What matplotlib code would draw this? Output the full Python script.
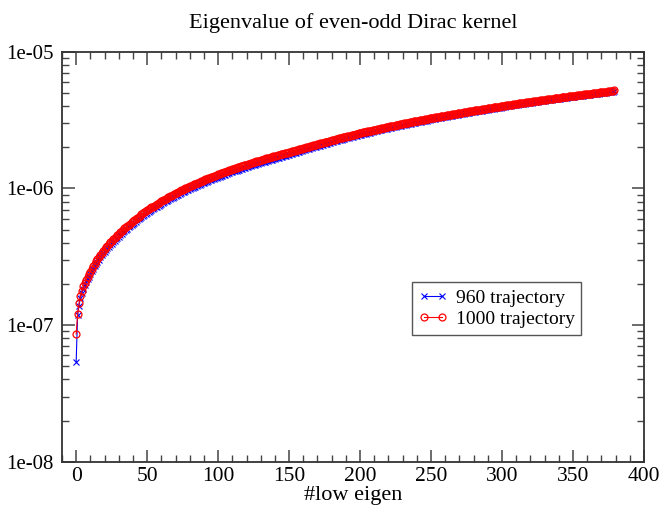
import numpy as np
import matplotlib
matplotlib.use("Agg")
import matplotlib.pyplot as plt
from matplotlib.ticker import FixedLocator, FuncFormatter, LogLocator, NullFormatter, MultipleLocator

plt.rcParams['font.family'] = ['Liberation Serif', 'DejaVu Serif']

# eigenvalues, in units of 1e-8
ev_960 = [
    5.4, 11.8, 13.9, 15.7, 17.2, 18.5, 19.6, 20.6, 21.6, 22.6,
    23.6, 24.7, 25.8, 26.9, 28.0, 29.1, 30.1, 31.3, 32.4, 33.5,
    34.4, 35.4, 36.4, 37.4, 38.4, 39.4, 40.4, 41.4, 42.4, 43.5,
    44.4, 45.5, 46.5, 47.6, 48.6, 49.7, 50.7, 51.8, 52.8, 53.9,
    54.9, 56.1, 57.1, 58.3, 59.3, 60.5, 61.5, 62.6, 63.7, 64.8,
    65.9, 67.0, 68.1, 69.2, 70.3, 71.4, 72.5, 73.6, 74.7, 75.8,
    76.9, 78.0, 79.1, 80.2, 81.3, 82.4, 83.5, 84.6, 85.7, 86.8,
    87.9, 89.0, 90.1, 91.2, 92.3, 93.4, 94.5, 95.6, 96.6, 97.8,
    98.8, 100.0, 101.0, 102.2, 103.2, 104.4, 105.4, 106.6, 107.6, 108.8,
    109.8, 111.0, 112.0, 113.2, 114.2, 115.4, 116.4, 117.6, 118.6, 119.8,
    120.8, 122.0, 123.0, 124.2, 125.2, 126.3, 127.4, 128.5, 129.6, 130.7,
    131.8, 132.9, 134.0, 135.1, 136.2, 137.3, 138.4, 139.5, 140.6, 141.7,
    142.8, 143.9, 145.0, 146.1, 147.2, 148.3, 149.4, 150.5, 151.6, 152.7,
    153.8, 154.9, 156.0, 157.1, 158.1, 159.3, 160.3, 161.5, 162.5, 163.7,
    164.7, 165.9, 166.9, 168.1, 169.1, 170.3, 171.3, 172.5, 173.5, 174.7,
    176.6, 177.9, 179.1, 180.4, 181.6, 182.9, 184.1, 185.4, 186.6, 187.9,
    190.1, 191.4, 192.7, 194.1, 195.3, 196.7, 197.9, 199.3, 200.5, 201.9,
    203.1, 204.5, 205.8, 207.2, 208.5, 209.9, 211.2, 212.6, 213.9, 215.3,
    217.8, 219.2, 220.6, 222.0, 223.4, 224.8, 226.2, 227.7, 229.0, 230.5,
    231.8, 233.3, 234.6, 236.1, 237.5, 238.9, 240.3, 241.7, 243.1, 244.5,
    245.9, 247.4, 248.7, 250.2, 251.5, 253.0, 254.3, 255.8, 257.1, 258.6,
    261.3, 262.8, 264.1, 265.6, 267.0, 268.4, 269.8, 271.2, 272.6, 274.1,
    275.4, 276.9, 278.3, 279.7, 281.1, 282.6, 283.9, 285.4, 286.7, 288.2,
    289.6, 291.0, 292.4, 293.9, 295.2, 296.7, 298.1, 299.5, 300.9, 302.3,
    303.7, 305.2, 306.5, 308.0, 309.4, 310.8, 312.2, 313.7, 315.0, 316.5,
    319.5, 321.0, 322.3, 323.8, 325.2, 326.6, 328.0, 329.5, 330.8, 332.3,
    333.7, 335.2, 336.5, 338.0, 339.4, 340.8, 342.2, 343.7, 345.1, 346.5,
    347.9, 349.4, 350.8, 352.3, 353.8, 355.3, 356.7, 358.2, 359.7, 361.1,
    362.6, 364.1, 365.5, 367.0, 368.5, 370.0, 371.4, 372.9, 374.4, 375.8,
    377.3, 378.8, 380.2, 381.7, 383.2, 384.7, 386.1, 387.6, 389.1, 390.5,
    394.0, 395.5, 397.0, 398.4, 399.9, 401.4, 402.9, 404.3, 405.8, 407.3,
    408.8, 410.3, 411.7, 413.2, 414.7, 416.2, 417.6, 419.1, 420.6, 422.1,
    423.6, 425.0, 426.5, 428.0, 429.5, 430.9, 432.4, 433.9, 435.4, 436.8,
    438.3, 439.8, 441.3, 442.7, 444.2, 445.7, 447.2, 448.7, 450.1, 451.6,
    453.1, 454.6, 456.1, 457.5, 459.0, 460.5, 462.0, 463.4, 464.9, 466.4,
    467.9, 469.4, 470.8, 472.3, 473.8, 475.3, 476.7, 478.2, 479.7, 481.2,
    482.7, 484.1, 485.6, 487.1, 488.6, 490.0, 491.5, 493.0, 494.5, 495.9,
    497.4, 498.9, 500.4, 501.9, 503.3, 504.8, 506.3, 507.8, 509.6, 512.0,
]

ev_1000 = [
    8.6, 12.0, 14.4, 16.2, 17.8, 19.2, 20.3, 21.4, 22.5, 23.5,
    24.6, 25.7, 26.9, 28.0, 29.2, 30.3, 31.4, 32.6, 33.7, 34.9,
    36.0, 37.1, 38.1, 39.2, 40.2, 41.3, 42.3, 43.4, 44.4, 45.5,
    46.5, 47.6, 48.7, 49.8, 50.9, 52.0, 53.1, 54.2, 55.3, 56.4,
    57.5, 58.7, 59.8, 61.0, 62.1, 63.3, 64.4, 65.6, 66.7, 67.9,
    69.0, 70.2, 71.3, 72.5, 73.6, 74.8, 75.9, 77.1, 78.2, 79.4,
    80.5, 81.7, 82.8, 84.0, 85.1, 86.3, 87.4, 88.6, 89.7, 90.9,
    92.0, 93.2, 94.3, 95.5, 96.6, 97.8, 98.9, 100.1, 101.2, 102.4,
    103.5, 104.7, 105.8, 107.0, 108.1, 109.3, 110.4, 111.6, 112.7, 113.9,
    115.0, 116.2, 117.3, 118.5, 119.6, 120.8, 121.9, 123.1, 124.2, 125.4,
    126.5, 127.7, 128.8, 130.0, 131.1, 132.3, 133.4, 134.6, 135.7, 136.9,
    138.0, 139.2, 140.3, 141.5, 142.6, 143.8, 144.9, 146.1, 147.2, 148.4,
    149.5, 150.7, 151.8, 153.0, 154.1, 155.3, 156.4, 157.6, 158.7, 159.9,
    161.0, 162.2, 163.3, 164.5, 165.6, 166.8, 167.9, 169.1, 170.2, 171.4,
    172.5, 173.7, 174.8, 176.0, 177.1, 178.3, 179.4, 180.6, 181.7, 182.9,
    184.0, 185.3, 186.6, 187.9, 189.2, 190.5, 191.8, 193.1, 194.4, 195.7,
    197.0, 198.4, 199.7, 201.1, 202.4, 203.8, 205.1, 206.5, 207.8, 209.2,
    210.5, 211.9, 213.3, 214.7, 216.1, 217.5, 218.9, 220.3, 221.7, 223.1,
    224.5, 226.0, 227.4, 228.9, 230.3, 231.8, 233.2, 234.7, 236.1, 237.6,
    239.0, 240.5, 241.9, 243.4, 244.8, 246.3, 247.7, 249.2, 250.6, 252.1,
    253.5, 255.0, 256.4, 257.9, 259.3, 260.8, 262.2, 263.7, 265.1, 266.6,
    268.0, 269.5, 270.9, 272.4, 273.8, 275.3, 276.7, 278.2, 279.6, 281.1,
    282.5, 284.0, 285.4, 286.9, 288.3, 289.8, 291.2, 292.7, 294.1, 295.6,
    297.0, 298.5, 299.9, 301.4, 302.8, 304.3, 305.7, 307.2, 308.6, 310.1,
    311.5, 313.0, 314.4, 315.9, 317.3, 318.8, 320.2, 321.7, 323.1, 324.6,
    326.0, 327.5, 328.9, 330.4, 331.8, 333.3, 334.7, 336.2, 337.6, 339.1,
    340.5, 342.0, 343.4, 344.9, 346.3, 347.8, 349.2, 350.7, 352.1, 353.6,
    355.0, 356.5, 358.0, 359.5, 361.0, 362.5, 364.0, 365.5, 367.0, 368.5,
    370.0, 371.5, 373.0, 374.5, 376.0, 377.5, 379.0, 380.5, 382.0, 383.5,
    385.0, 386.5, 388.0, 389.5, 391.0, 392.5, 394.0, 395.5, 397.0, 398.5,
    400.0, 401.5, 403.0, 404.5, 406.0, 407.5, 409.0, 410.5, 412.0, 413.5,
    415.0, 416.5, 418.0, 419.5, 421.0, 422.5, 424.0, 425.5, 427.0, 428.5,
    430.0, 431.5, 433.0, 434.5, 436.0, 437.5, 439.0, 440.5, 442.0, 443.5,
    445.0, 446.5, 448.0, 449.5, 451.0, 452.5, 454.0, 455.5, 457.0, 458.5,
    460.0, 461.5, 463.0, 464.5, 466.0, 467.5, 469.0, 470.5, 472.0, 473.5,
    475.0, 476.5, 478.0, 479.5, 481.0, 482.5, 484.0, 485.5, 487.0, 488.5,
    490.0, 491.5, 493.0, 494.5, 496.0, 497.5, 499.0, 500.5, 502.0, 503.5,
    505.0, 506.5, 508.0, 509.5, 511.0, 512.5, 514.5, 516.5, 519.0, 522.0,
]

labels = ['960 trajectory', '1000 trajectory']
title = 'Eigenvalue of even-odd Dirac kernel'
y_ticks = [1e-8, 1e-7, 1e-6, 1e-5]
y_ticklabels = ['1e-08', '1e-07', '1e-06', '1e-05']

idx = np.arange(len(ev_1000))
y960 = np.array(ev_960) * 1e-8
y1000 = np.array(ev_1000) * 1e-8

fig = plt.figure(figsize=(6.65, 5.09), dpi=100)
ax = fig.add_axes([0.0932, 0.0929, 0.8752, 0.8055])

ax.plot(idx, y960, color='blue', lw=0.8, marker='x', ms=4, mew=0.8, label=labels[0])
ax.plot(idx, y1000, color='red', lw=0.8, marker='o', ms=5, mew=0.9,
        mfc='none', label=labels[1])

ax.set_yscale('log')
ax.set_xlim(-10, 400)
ax.set_ylim(1e-8, 1e-5)

ax.xaxis.set_major_locator(MultipleLocator(50))
ax.xaxis.set_minor_locator(MultipleLocator(10))
ax.yaxis.set_major_locator(FixedLocator(y_ticks))
ax.yaxis.set_major_formatter(FuncFormatter(lambda v, p: y_ticklabels[y_ticks.index(v)] if v in y_ticks else ''))
ax.yaxis.set_minor_locator(LogLocator(base=10, subs=np.arange(2, 10)))
ax.yaxis.set_minor_formatter(NullFormatter())

ax.tick_params(which='both', direction='in', top=True, right=True, color='#444444')
ax.tick_params(which='major', length=9, width=1.1)
ax.tick_params(which='minor', length=5, width=1.0)
ax.tick_params(axis='x', which='major', labelsize=15.5, pad=4)
ax.tick_params(axis='y', which='major', labelsize=15, pad=6)
for s in ax.spines.values():
    s.set_linewidth(1.3)
    s.set_color('#333333')

ax.set_xlabel('#low eigen', fontsize=16, labelpad=0)
ax.set_title(title, fontsize=16, pad=17)

leg = ax.legend(loc='lower left', bbox_to_anchor=(0.601, 0.309), borderaxespad=0,
                fontsize=14, numpoints=2, handlelength=1.5, handletextpad=0.4,
                fancybox=False, framealpha=1, borderpad=0.35, labelspacing=0.2)
leg.get_frame().set_edgecolor('#555555')
leg.get_frame().set_linewidth(1.0)

fig.savefig('out.png', dpi=100)
